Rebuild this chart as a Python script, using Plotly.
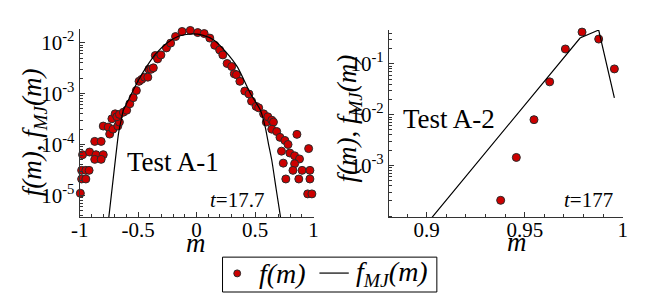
import plotly.graph_objects as go

# ---------------- data ----------------
# Test A-1 : simulated distribution f(m)
m_a1 = [-0.994, -0.983, -0.947, -0.983, -0.947, -0.919, -0.975, -0.915, -0.860, -0.798,
        -0.871, -0.816, -0.871, -0.816, -0.798, -0.756, -0.743, -0.715, -0.674, -0.660,
        -0.724, -0.696, -0.682, -0.660, -0.626, -0.598, -0.571, -0.542, -0.515, -0.492,
        -0.470, -0.445, -0.417, -0.408, -0.389, -0.370, -0.353, -0.333, -0.305, -0.258,
        -0.222, -0.180, -0.124, -0.054, 0.010, 0.065, 0.113, 0.155, 0.197, 0.224,
        0.261, 0.300, 0.322, 0.341, 0.370, 0.412, 0.448, 0.470, 0.509, 0.531,
        0.573, 0.596, 0.609, 0.643, 0.657, 0.643, 0.685, 0.713, 0.755, 0.782,
        0.858, 0.726, 0.797, 0.838, 0.880, 0.958, 0.741, 0.838, 0.824, 0.902,
        0.969, 0.763, 0.874, 0.969, 0.950, 0.986]
f_a1 = [1.1e-5, 2.1e-5, 2.1e-5, 3.1e-5, 3.1e-5, 3.1e-5, 6.3e-5, 7.1e-5, 6.3e-5, 6.3e-5,
        5.1e-5, 5.1e-5, 1.15e-4, 1.15e-4, 2.3e-4, 2.2e-4, 1.6e-4, 2.0e-4, 2.3e-4, 2.75e-4,
        3.2e-4, 4.0e-4, 3.5e-4, 3.9e-4, 4.3e-4, 4.7e-4, 6.3e-4, 8.3e-4, 1.15e-3, 1.74e-3,
        1.9e-3, 2.1e-3, 2.1e-3, 3.0e-3, 3.0e-3, 3.2e-3, 5.6e-3, 4.8e-3, 5.75e-3, 7.9e-3,
        9.8e-3, 1.32e-2, 1.66e-2, 1.74e-2, 1.58e-2, 1.51e-2, 1.23e-2, 8.9e-3, 7.2e-3, 5.75e-3,
        3.9e-3, 3.4e-3, 2.45e-3, 2.35e-3, 1.74e-3, 1.12e-3, 9.8e-4, 7.1e-4, 5.6e-4, 5.25e-4,
        4.0e-4, 2.75e-4, 3.5e-4, 3.0e-4, 2.75e-4, 2.0e-4, 1.8e-4, 1.38e-4, 1.2e-4, 1.0e-4,
        1.58e-4, 7.4e-5, 6.8e-5, 6.0e-5, 5.2e-5, 8.3e-5, 4.3e-5, 4.2e-5, 3.1e-5, 3.1e-5,
        3.1e-5, 2.1e-5, 2.1e-5, 2.1e-5, 1.07e-5, 1.07e-5]

# Test A-1 : f_MJ(m)
m_a1_mj = [-0.752, -0.703, -0.682, -0.668, -0.645, -0.626, -0.571, -0.50, -0.43, -0.35,
           -0.25, -0.15, -0.05, 0.05, 0.15, 0.25, 0.35, 0.46, 0.546, 0.587,
           0.615, 0.643, 0.68, 0.718]
f_a1_mj = [3.47e-6, 3.39e-5, 8.9e-5, 1.62e-4, 3.0e-4, 4.7e-4, 8.5e-4, 1.78e-3, 3.3e-3, 6.0e-3,
           1.0e-2, 1.35e-2, 1.48e-2, 1.41e-2, 1.12e-2, 6.6e-3, 3.3e-3, 1.0e-3, 4.7e-4, 2.2e-4,
           1.02e-4, 4.9e-5, 1.35e-5, 3.7e-6]

# Test A-2 : simulated distribution f(m)
m_a2 = [0.9377, 0.9457, 0.9547, 0.9627, 0.9707, 0.9792, 0.9877, 0.9957]
f_a2 = [2.06e-4, 1.44e-3, 7.98e-3, 4.44e-2, 1.97e-1, 4.24e-1, 3.09e-1, 7.98e-2]

# Test A-2 : f_MJ(m)
m_a2_mj = [0.9027, 0.9782, 0.9877, 0.9957]
f_a2_mj = [9.5e-5, 0.324, 0.465, 0.0214]

x_ticks_a1 = [-1, -0.5, 0, 0.5, 1]
x_text_a1 = ["-1", "-0.5", "0", "0.5", "1"]
x_ticks_a2 = [0.9, 0.95, 1]
x_text_a2 = ["0.9", "0.95", "1"]
y_ticks_a1 = [1e-5, 1e-4, 1e-3, 1e-2]
y_text_a1 = ["10<sup>-5</sup>", "10<sup>-4</sup>", "10<sup>-3</sup>", "10<sup>-2</sup>"]
y_ticks_a2 = [1e-3, 1e-2, 1e-1]
y_text_a2 = ["10<sup>-3</sup>", "10<sup>-2</sup>", "10<sup>-1</sup>"]

legend_labels = ["<i>f(m)</i>", "<i>f</i><sub><i>MJ</i></sub><i>(m)</i>"]

# ---------------- figure ----------------
# the page body has an 8px margin, so the figure is drawn 8px smaller and
# all layout positions are given in window pixels minus that offset
OFF = 8
W, H = 665 - OFF, 295 - OFF
SERIF = "Liberation Serif"
RED = "#cc0000"
AX = "#333333"


def px(x):
    return (x - OFF) / W


def py(y):
    return 1 - (y - OFF) / H


marker = dict(color=RED, size=8, line=dict(color="#2a2a2a", width=1))
fig = go.Figure()
fig.add_trace(go.Scatter(x=m_a1, y=f_a1, mode="markers", marker=marker,
                         name=legend_labels[0], cliponaxis=False, xaxis="x", yaxis="y"))
fig.add_trace(go.Scatter(x=m_a1_mj, y=f_a1_mj, mode="lines",
                         line=dict(color="black", width=1.2, shape="spline", smoothing=0.6),
                         name=legend_labels[1], xaxis="x", yaxis="y"))
fig.add_trace(go.Scatter(x=m_a2, y=f_a2, mode="markers", marker=marker,
                         cliponaxis=False, xaxis="x2", yaxis="y2"))
fig.add_trace(go.Scatter(x=m_a2_mj, y=f_a2_mj, mode="lines",
                         line=dict(color="black", width=1.2), xaxis="x2", yaxis="y2"))

tickfont = dict(family=SERIF, size=21, color="black")
common = dict(showline=True, linecolor=AX, linewidth=1, showgrid=False, zeroline=False,
              ticks="inside", ticklen=5, tickcolor=AX, tickfont=tickfont, mirror=False)

fig.update_layout(
    width=W, height=H,
    margin=dict(l=0, r=0, t=0, b=0),
    paper_bgcolor="white", plot_bgcolor="white",
    showlegend=False,
    xaxis=dict(domain=[px(72), px(311)], range=[-1, 1], anchor="y",
               tickmode="array", tickvals=x_ticks_a1, ticktext=x_text_a1, ticklabelstandoff=-6,
               minor=dict(tickmode="linear", tick0=-1, dtick=0.1, ticks="inside", ticklen=3,
                          tickcolor=AX),
               **common),
    yaxis=dict(domain=[py(217), py(28)], type="log", range=[-5.43, -1.73], anchor="x",
               tickmode="array", tickvals=y_ticks_a1, ticktext=y_text_a1,
               minor=dict(ticks="inside", ticklen=3, dtick="D1", tickcolor=AX),
               **common),
    xaxis2=dict(domain=[px(388), px(627)], range=[0.8807, 1.0], anchor="y2",
                tickmode="array", tickvals=x_ticks_a2, ticktext=x_text_a2, ticklabelstandoff=-6,
                minor=dict(tickmode="linear", tick0=0.9, dtick=0.01, ticks="inside", ticklen=3,
                           tickcolor=AX),
                **common),
    yaxis2=dict(domain=[py(217), py(29)], type="log", range=[-4.02, -0.33], anchor="x2",
                tickmode="array", tickvals=y_ticks_a2, ticktext=y_text_a2,
                minor=dict(ticks="inside", ticklen=3, dtick="D1", tickcolor=AX),
                **common),
)

ann_font_big = dict(family=SERIF, size=27, color="black")
ann_font_t = dict(family=SERIF, size=21, color="black")
ann_font_title = dict(family=SERIF, size=27, color="black")
ann_font_leg = dict(family=SERIF, size=28, color="black")
annotations = [
    dict(x=px(25), y=py(132), text="<i>f(m)</i>, <i>f</i><sub><i>MJ</i></sub><i>(m)</i>",
         textangle=-90, font=ann_font_title),
    dict(x=px(347), y=py(118), text="<i>f(m)</i>, <i>f</i><sub><i>MJ</i></sub><i>(m)</i>",
         textangle=-90, font=ann_font_title),
    dict(x=px(191), y=py(243), text="<i>m</i>", font=ann_font_title),
    dict(x=px(519), y=py(242), text="<i>m</i>", font=ann_font_title),
    dict(x=px(167), y=py(162), text="Test A-1", font=ann_font_big),
    dict(x=px(449), y=py(118), text="Test A-2", font=ann_font_big),
    dict(x=px(233), y=py(200), text="<i>t</i>=17.7", font=ann_font_t),
    dict(x=px(592), y=py(200), text="<i>t</i>=177", font=ann_font_t),
    # legend texts
    dict(x=px(279), y=py(273), text=legend_labels[0], font=ann_font_leg),
    dict(x=px(391), y=py(273), text=legend_labels[1], font=ann_font_leg),
]
for a in annotations:
    a.update(xref="paper", yref="paper", showarrow=False, xanchor="center", yanchor="middle")

# legend frame, marker symbol and line symbol
shapes = [
    dict(type="rect", x0=px(218), x1=px(437), y0=py(292), y1=py(257),
         line=dict(color="black", width=1), fillcolor="white", layer="below"),
    dict(type="circle", x0=px(229.5), x1=px(236.5), y0=py(276.8), y1=py(269.8),
         line=dict(color="#2a2a2a", width=1), fillcolor=RED),
    dict(type="line", x0=px(317), x1=px(347), y0=py(273), y1=py(273),
         line=dict(color="black", width=1.2)),
]
for s in shapes:
    s.update(xref="paper", yref="paper")
fig.update_layout(annotations=annotations, shapes=shapes)

fig.write_html("out.html")
